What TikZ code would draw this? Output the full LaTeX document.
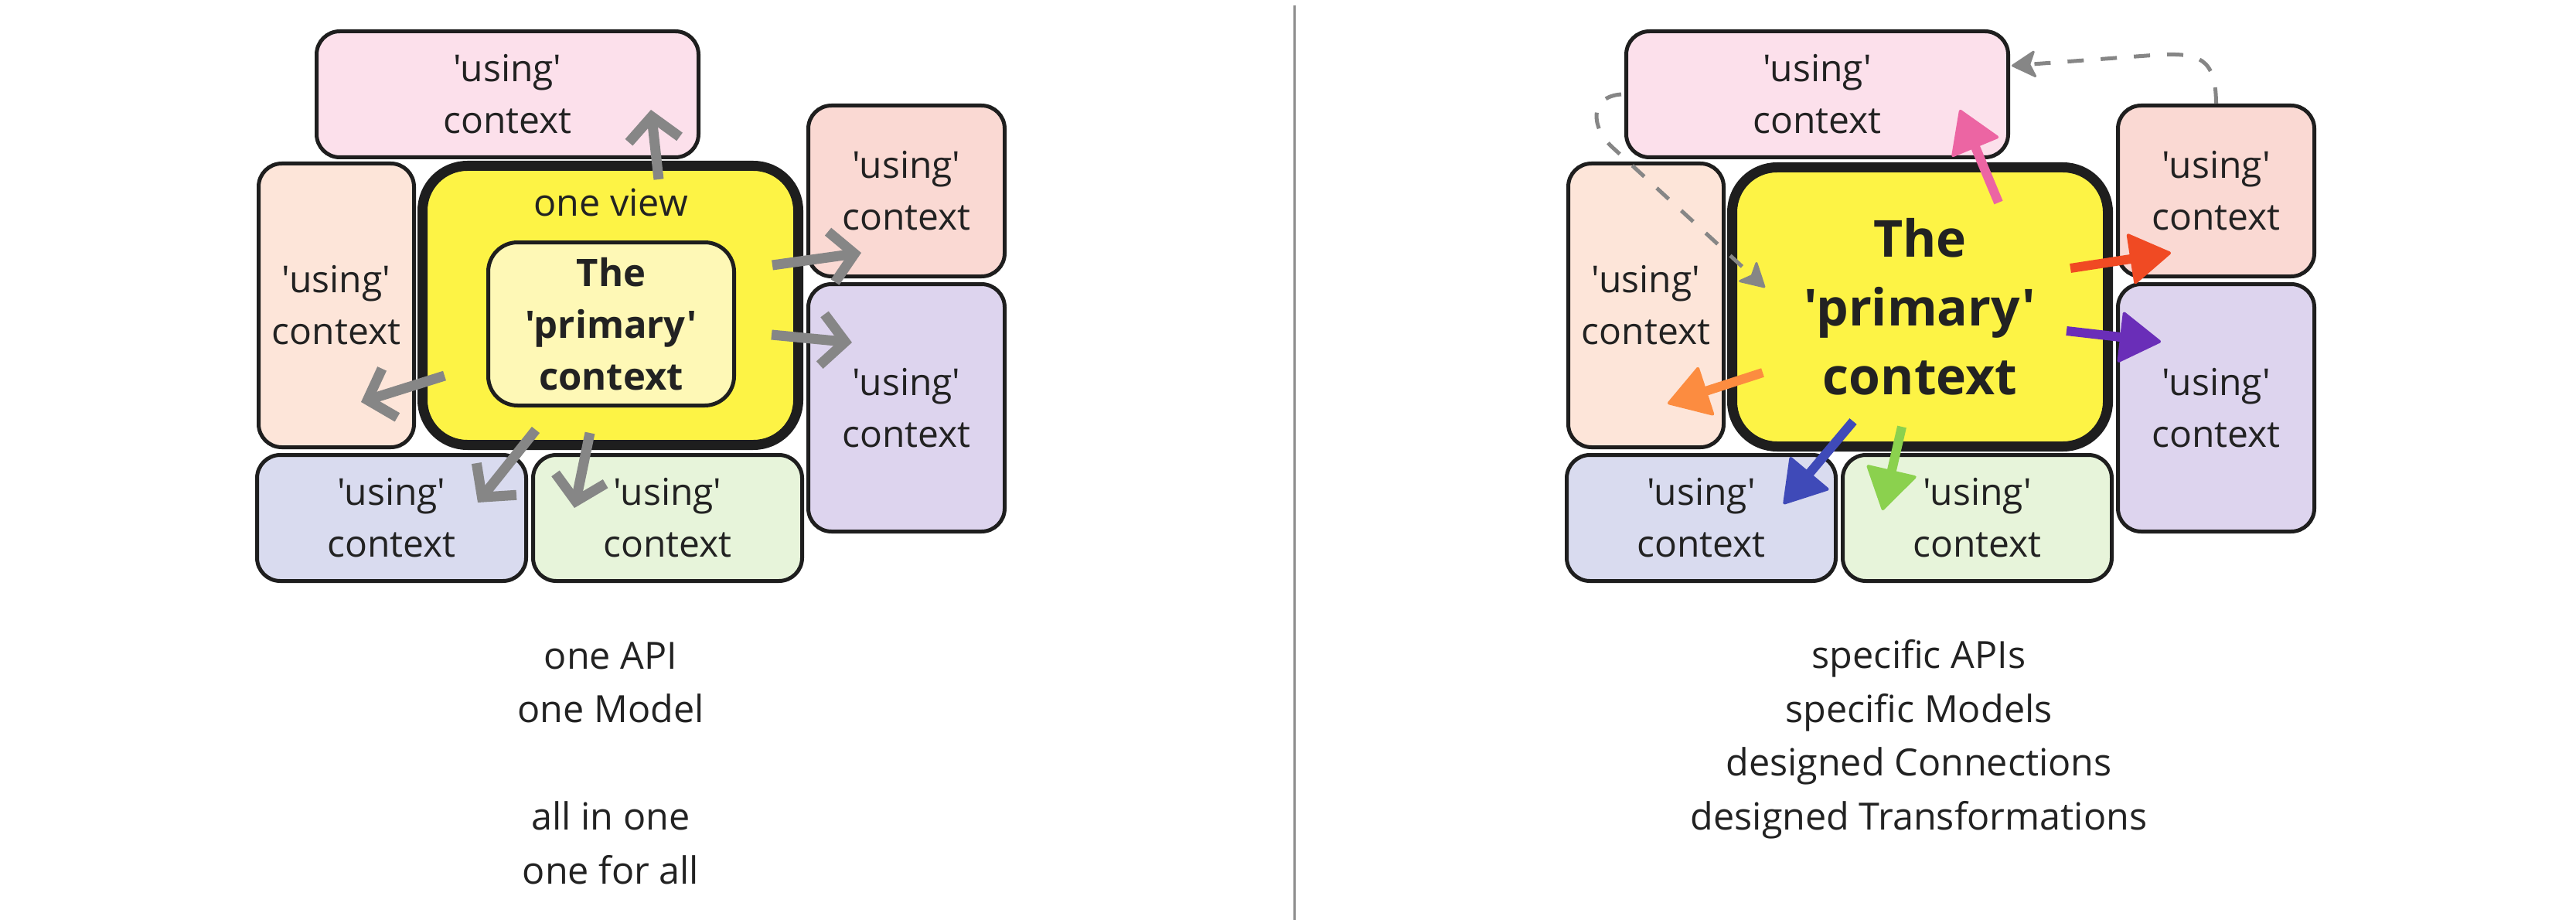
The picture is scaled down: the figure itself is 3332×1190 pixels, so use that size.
\documentclass[tikz,border=0pt]{standalone}
\usepackage{fontspec}
\newfontfamily\osans{Open Sans}
\usetikzlibrary{arrows.meta,calc}
\definecolor{bord}{HTML}{1E1E1E}
\definecolor{txt}{HTML}{222222}
\definecolor{cpink}{HTML}{FCE0EB}
\definecolor{cpeach}{HTML}{FDE5D9}
\definecolor{csalmon}{HTML}{FAD9D3}
\definecolor{clav}{HTML}{DDD4EE}
\definecolor{cblue}{HTML}{D9DBEF}
\definecolor{cgreen}{HTML}{E7F4DA}
\definecolor{yel}{HTML}{FDF345}
\definecolor{cinner}{HTML}{FEF8B6}
\definecolor{garr}{HTML}{868686}
\definecolor{divc}{HTML}{8C8C8C}
\definecolor{apink}{HTML}{EC65A3}
\definecolor{ared}{HTML}{F04A23}
\definecolor{apurple}{HTML}{6A2EB8}
\definecolor{aorange}{HTML}{FC8C40}
\definecolor{ablue}{HTML}{3F4AB8}
\definecolor{agreen}{HTML}{8BD14E}
\begin{document}
\begin{tikzpicture}[x=1pt,y=-1pt,
  usebox/.style={draw=bord, line width=5pt, rounded corners=30pt, inner sep=0pt,
    align=center, text=txt, font=\osans\fontsize{48pt}{67pt}\selectfont},
  bigbox/.style={draw=bord, line width=13pt, rounded corners=58pt, fill=yel, inner sep=0pt,
    minimum width=486pt, minimum height=361pt, align=center, text=txt},
  innerbox/.style={draw=bord, line width=5pt, rounded corners=38pt, fill=cinner, inner sep=0pt,
    minimum width=318pt, minimum height=211pt, align=center, text=txt,
    font=\osans\bfseries\fontsize{49pt}{67pt}\selectfont},
  plain/.style={align=center, text=txt, font=\osans\fontsize{48.5pt}{69.5pt}\selectfont, inner sep=0pt},
  garrow/.style={draw=garr, line width=13pt, -{Straight Barb[length=30pt,width=66pt,sharp]}},
  carrow/.style={line width=12pt, -{Triangle[length=55pt,width=68pt,round,line width=4pt]}},
  darrow/.style={draw=garr, line width=5pt, dash pattern=on 21pt off 22pt,
    -{Stealth[length=34pt,width=38pt,inset=8pt,round,line width=3pt]}}
]
\fill[white] (0,0) rectangle (3332,1190);
\useasboundingbox (0,0) rectangle (3332,1190);

% ---------- left panel ----------
\node[usebox, fill=cpink, minimum width=494pt, minimum height=163pt] (P1) at (656.5,122) {'using'\\context};
\node[usebox, fill=cpeach, minimum width=201pt, minimum height=367pt] (L1) at (435,395) {'using'\\context};
\node[bigbox] (Y1) at (789.5,395) {};
\node[innerbox] (I1) at (790.5,419) {The\\'primary'\\context};
\node[plain] (OV) at (790,262) {one view};
\node[usebox, fill=csalmon, minimum width=254pt, minimum height=221pt] (S1) at (1172.5,247) {'using'\\context};
\node[usebox, fill=clav, minimum width=254pt, minimum height=320pt] (V1) at (1172.5,527.5) {'using'\\context};
\node[usebox, fill=cblue, minimum width=348pt, minimum height=163pt] (B1) at (506.5,670) {'using'\\context};
\node[usebox, fill=cgreen, minimum width=348pt, minimum height=163pt] (G1) at (863.5,670) {'using'\\context};

\draw[garrow] ($(Y1.center)+(62.5,-163)$) -- ($(P1.center)+(185.5,20)$);
\draw[garrow] ($(Y1.center)+(209.5,-52)$) -- ($(S1.center)+(-58.5,80)$);
\draw[garrow] ($(Y1.center)+(208.5,38)$) -- ($(V1.center)+(-70.5,-84.5)$);
\draw[garrow] ($(Y1.center)+(-214.5,91)$) -- ($(L1.center)+(32,125)$);
\draw[garrow] ($(Y1.center)+(-96.5,161)$) -- ($(B1.center)+(111.5,-20)$);
\draw[garrow] ($(Y1.center)+(-26.5,165)$) -- ($(G1.center)+(-120.5,-13)$);

\node[plain, anchor=base] (T1) at (790,1143) {one API\\one Model\\[69.5pt]all in one\\one for all};

% ---------- divider ----------
\draw[draw=divc, line width=3pt] (1674,7) -- (1674,1190);

% ---------- right panel ----------
\node[usebox, fill=cpink, minimum width=494pt, minimum height=163pt] (P2) at (2350.5,122) {'using'\\context};
\node[usebox, fill=cpeach, minimum width=201pt, minimum height=367pt] (L2) at (2129,395) {'using'\\context};
\node[bigbox, font=\osans\bfseries\fontsize{66pt}{89pt}\selectfont] (Y2) at (2483.5,397) {The\\'primary'\\context};
\node[usebox, fill=csalmon, minimum width=254pt, minimum height=221pt] (S2) at (2866.5,247) {'using'\\context};
\node[usebox, fill=clav, minimum width=254pt, minimum height=320pt] (V2) at (2866.5,527.5) {'using'\\context};
\node[usebox, fill=cblue, minimum width=348pt, minimum height=163pt] (B2) at (2200.5,670) {'using'\\context};
\node[usebox, fill=cgreen, minimum width=348pt, minimum height=163pt] (G2) at (2557.5,670) {'using'\\context};

\draw[carrow, draw=apink] ($(Y2.center)+(101.5,-135)$) -- ($(P2.center)+(184.5,20)$);
\draw[carrow, draw=ared] ($(Y2.center)+(194.5,-50)$) -- ($(S2.center)+(-58.5,80)$);
\draw[carrow, draw=apurple] ($(Y2.center)+(189.5,31)$) -- ($(V2.center)+(-71.5,-85.5)$);
\draw[carrow, draw=aorange] ($(Y2.center)+(-203.5,85)$) -- ($(L2.center)+(28,127)$);
\draw[carrow, draw=ablue] ($(Y2.center)+(-86.5,148)$) -- ($(B2.center)+(106.5,-18)$);
\draw[carrow, draw=agreen] ($(Y2.center)+(-23.5,155)$) -- ($(G2.center)+(-122.5,-10)$);

\draw[darrow] ($(P2.west)+(-4,0)$) .. controls (2055,125) and (2058,165) .. (2085,190)
  -- ($(Y2.center)+(-200.5,-25)$);
\draw[darrow] (S2.north) .. controls (2866,75) and (2845,68) .. (2790,71)
  -- ($(P2.east)+(2,-37)$);

\node[plain, anchor=base] (T2) at (2482,1073) {specific APIs\\specific Models\\designed Connections\\designed Transformations};
\end{tikzpicture}
\end{document}
